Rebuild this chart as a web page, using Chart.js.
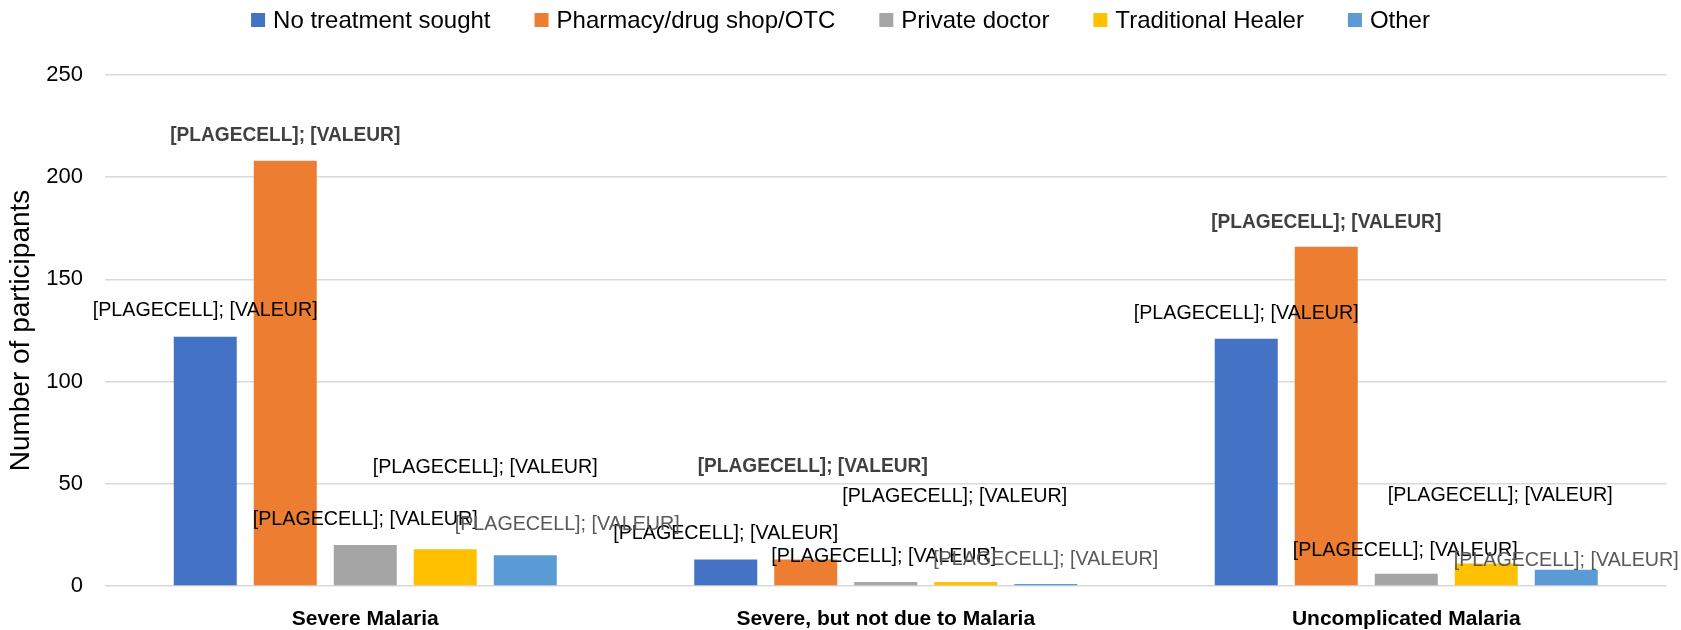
<!DOCTYPE html>
<html lang="en">
<head>
    <meta charset="UTF-8">
    <title>Treatment sought by diagnosis</title>
    <script src="https://cdn.jsdelivr.net/npm/chart.js"></script>
    <style>
        body {
            margin: 0;
            padding: 0;
            background-color: #fff;
        }

        .wrap {
            width: 1681px;
            height: 630px;
        }
    </style>
</head>
<body>
    <div class="wrap">
        <canvas id="treatmentChart" width="1681" height="630"></canvas>
    </div>

    <script>
        // categories and series
        const categories = ['Severe Malaria', 'Severe, but not due to Malaria', 'Uncomplicated Malaria'];
        const seriesNames = ['No treatment sought', 'Pharmacy/drug shop/OTC', 'Private doctor', 'Traditional Healer', 'Other'];

        const noTreatment = [122, 13, 121];
        const pharmacy = [208, 13, 166];
        const privateDoctor = [20, 2, 6];
        const healer = [18, 2, 11];
        const other = [15, 1, 8];

        const yTicks = [0, 50, 100, 150, 200, 250];

        // the unresolved Excel label text shown above each bar
        const labelText = '[PLAGECELL]; [VALEUR]';

        const FONT = "'Liberation Sans', Arial, sans-serif";
        const colors = ['#4472C4', '#ED7D31', '#A5A5A5', '#FFC000', '#5B9BD5'];
        const labelColors = ['#000000', '#404040', '#000000', '#000000', '#595959'];
        const labelBold = [false, true, false, false, false];

        // label offsets (px) from bar top-centre, per series per category
        const labelShift = [
            [[0, -26], [0, -26], [0, -25]],
            [[0, -26], [7, -93], [0, -24]],
            [[0, -26], [-2, -26], [-1, -24]],
            [[40, -82], [-11, -86], [14, -68]],
            [[42, -31], [0, -25], [0, -9]]
        ];

        const allSeries = [noTreatment, pharmacy, privateDoctor, healer, other];

        const datasets = allSeries.map((vals, i) => ({
            label: seriesNames[i],
            data: vals,
            backgroundColor: colors[i],
            borderWidth: 0,
            categoryPercentage: 0.7685,
            barPercentage: 0.7875
        }));

        // bar labels drawn on top of the bars
        const barLabels = {
            id: 'barLabels',
            afterDatasetsDraw(chart) {
                const ctx = chart.ctx;
                chart.data.datasets.forEach((ds, i) => {
                    const meta = chart.getDatasetMeta(i);
                    meta.data.forEach((bar, j) => {
                        const [dx, dy] = labelShift[i][j];
                        ctx.save();
                        ctx.font = (labelBold[i] ? 'bold ' : '') + '21px ' + FONT;
                        ctx.fillStyle = labelColors[i];
                        ctx.textAlign = 'center';
                        ctx.textBaseline = 'middle';
                        const target = labelBold[i] ? 230 : 225;
                        const w = ctx.measureText(labelText).width;
                        ctx.translate(bar.x + dx, bar.y + dy);
                        ctx.scale(target / w, 1);
                        ctx.fillText(labelText, 0, 0);
                        ctx.restore();
                    });
                });
            }
        };

        // legend row along the top
        const topLegend = {
            id: 'topLegend',
            afterDraw(chart) {
                const ctx = chart.ctx;
                const box = 14, gap = 8, spacing = 44, cy = 20;
                ctx.save();
                ctx.font = '24px ' + FONT;
                ctx.textBaseline = 'middle';
                ctx.textAlign = 'left';
                const items = chart.data.datasets.map(ds => ({
                    text: ds.label,
                    color: ds.backgroundColor,
                    w: ctx.measureText(ds.label).width
                }));
                let total = items.reduce((s, it) => s + box + gap + it.w, 0) + spacing * (items.length - 1);
                let x = (chart.width - total) / 2;
                items.forEach(it => {
                    ctx.fillStyle = it.color;
                    ctx.fillRect(x, cy - box / 2, box, box);
                    ctx.fillStyle = '#000';
                    ctx.fillText(it.text, x + box + gap, cy + 1);
                    x += box + gap + it.w + spacing;
                });
                ctx.restore();
            }
        };

        const ctx = document.getElementById('treatmentChart').getContext('2d');
        new Chart(ctx, {
            type: 'bar',
            data: {
                labels: categories,
                datasets: datasets
            },
            options: {
                responsive: false,
                animation: false,
                layout: {
                    padding: { top: 75, right: 14.5, bottom: 0, left: 0 }
                },
                plugins: {
                    legend: { display: false },
                    tooltip: { enabled: false }
                },
                scales: {
                    x: {
                        grid: { display: false, drawTicks: false },
                        border: { display: false },
                        ticks: {
                            color: '#000',
                            padding: 21,
                            maxRotation: 0,
                            font: { family: FONT, size: 21, weight: 'bold' }
                        },
                        afterFit(scale) { scale.height = 44; }
                    },
                    y: {
                        min: 0,
                        max: 250,
                        afterBuildTicks(scale) {
                            scale.ticks = yTicks.map(v => ({ value: v }));
                        },
                        grid: { color: '#D9D9D9', lineWidth: 1.5, drawTicks: false },
                        border: { display: false },
                        ticks: {
                            color: '#000',
                            padding: 22,
                            font: { family: FONT, size: 22 }
                        },
                        title: {
                            display: true,
                            text: 'Number of participants',
                            color: '#000',
                            padding: { top: 4, bottom: 0 },
                            font: { family: FONT, size: 28 }
                        },
                        afterFit(scale) { scale.width = 105; }
                    }
                }
            },
            plugins: [barLabels, topLegend]
        });
    </script>
</body>
</html>
